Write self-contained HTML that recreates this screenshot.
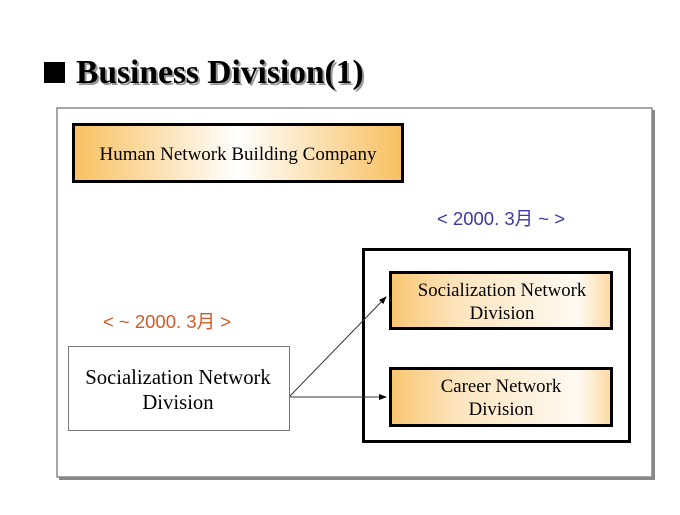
<!DOCTYPE html>
<html><head><meta charset="utf-8"><style>
html,body{margin:0;padding:0;background:#fff;}
body{width:680px;height:510px;overflow:hidden;}
</style></head><body>
<svg width="680" height="510" xmlns="http://www.w3.org/2000/svg" font-family="Liberation Serif, serif">
<defs>
<linearGradient id="g1" x1="0" x2="1" y1="0" y2="0">
<stop offset="0" stop-color="#f8c060"/><stop offset="0.5" stop-color="#ffffff"/><stop offset="1" stop-color="#f8c060"/></linearGradient>
<linearGradient id="g2" x1="0" x2="1" y1="0" y2="0">
<stop offset="0" stop-color="#f9c670"/><stop offset="0.3" stop-color="#fde4bd"/><stop offset="0.85" stop-color="#fffaf2"/><stop offset="1" stop-color="#fbd9a0"/></linearGradient>
<marker id="ar" markerWidth="8" markerHeight="6" refX="7" refY="3" orient="auto" markerUnits="userSpaceOnUse"><path d="M0,0 L8,3 L0,6 z" fill="#000"/></marker>
</defs>
<rect x="44" y="62" width="21" height="21" fill="#000"/>
<text x="78" y="85" font-size="33.5" font-weight="bold" fill="#999">Business Division(1)</text>
<text x="76" y="83" font-size="33.5" font-weight="bold" fill="#000">Business Division(1)</text>
<rect x="59" y="110" width="596" height="370" fill="#888"/>
<rect x="57" y="108" width="595" height="369" fill="#fff" stroke="#888" stroke-width="1.5"/>
<rect x="73.5" y="124.5" width="329" height="57" fill="url(#g1)" stroke="#000" stroke-width="3"/>
<text x="238" y="160" font-size="19" text-anchor="middle">Human Network Building Company</text>
<text x="501" y="225" font-size="18.5" text-anchor="middle" fill="#3a3aa0" font-family="Liberation Sans, Noto Sans CJK KR, sans-serif">&lt; 2000. 3月 ~ &gt;</text>
<text x="167" y="328" font-size="18.5" text-anchor="middle" fill="#d05a2a" font-family="Liberation Sans, Noto Sans CJK KR, sans-serif">&lt; ~ 2000. 3月 &gt;</text>
<rect x="363.5" y="249.5" width="266" height="192" fill="#fff" stroke="#000" stroke-width="3"/>
<rect x="390.5" y="272.5" width="221" height="56" fill="url(#g2)" stroke="#000" stroke-width="3"/>
<text x="502" y="296" font-size="18.8" text-anchor="middle">Socialization Network</text>
<text x="502" y="319" font-size="18.8" text-anchor="middle">Division</text>
<rect x="390.5" y="368.5" width="221" height="57" fill="url(#g2)" stroke="#000" stroke-width="3"/>
<text x="501" y="392" font-size="18.8" text-anchor="middle">Career Network</text>
<text x="501" y="415" font-size="18.8" text-anchor="middle">Division</text>
<rect x="68.5" y="346.5" width="221" height="84" fill="#fff" stroke="#777" stroke-width="1"/>
<text x="178" y="384" font-size="20.7" text-anchor="middle">Socialization Network</text>
<text x="178" y="409" font-size="20.7" text-anchor="middle">Division</text>
<line x1="290" y1="396" x2="386" y2="297" stroke="#333" stroke-width="1" marker-end="url(#ar)"/>
<line x1="290" y1="397" x2="386" y2="397" stroke="#333" stroke-width="1" marker-end="url(#ar)"/>
</svg>
</body></html>
